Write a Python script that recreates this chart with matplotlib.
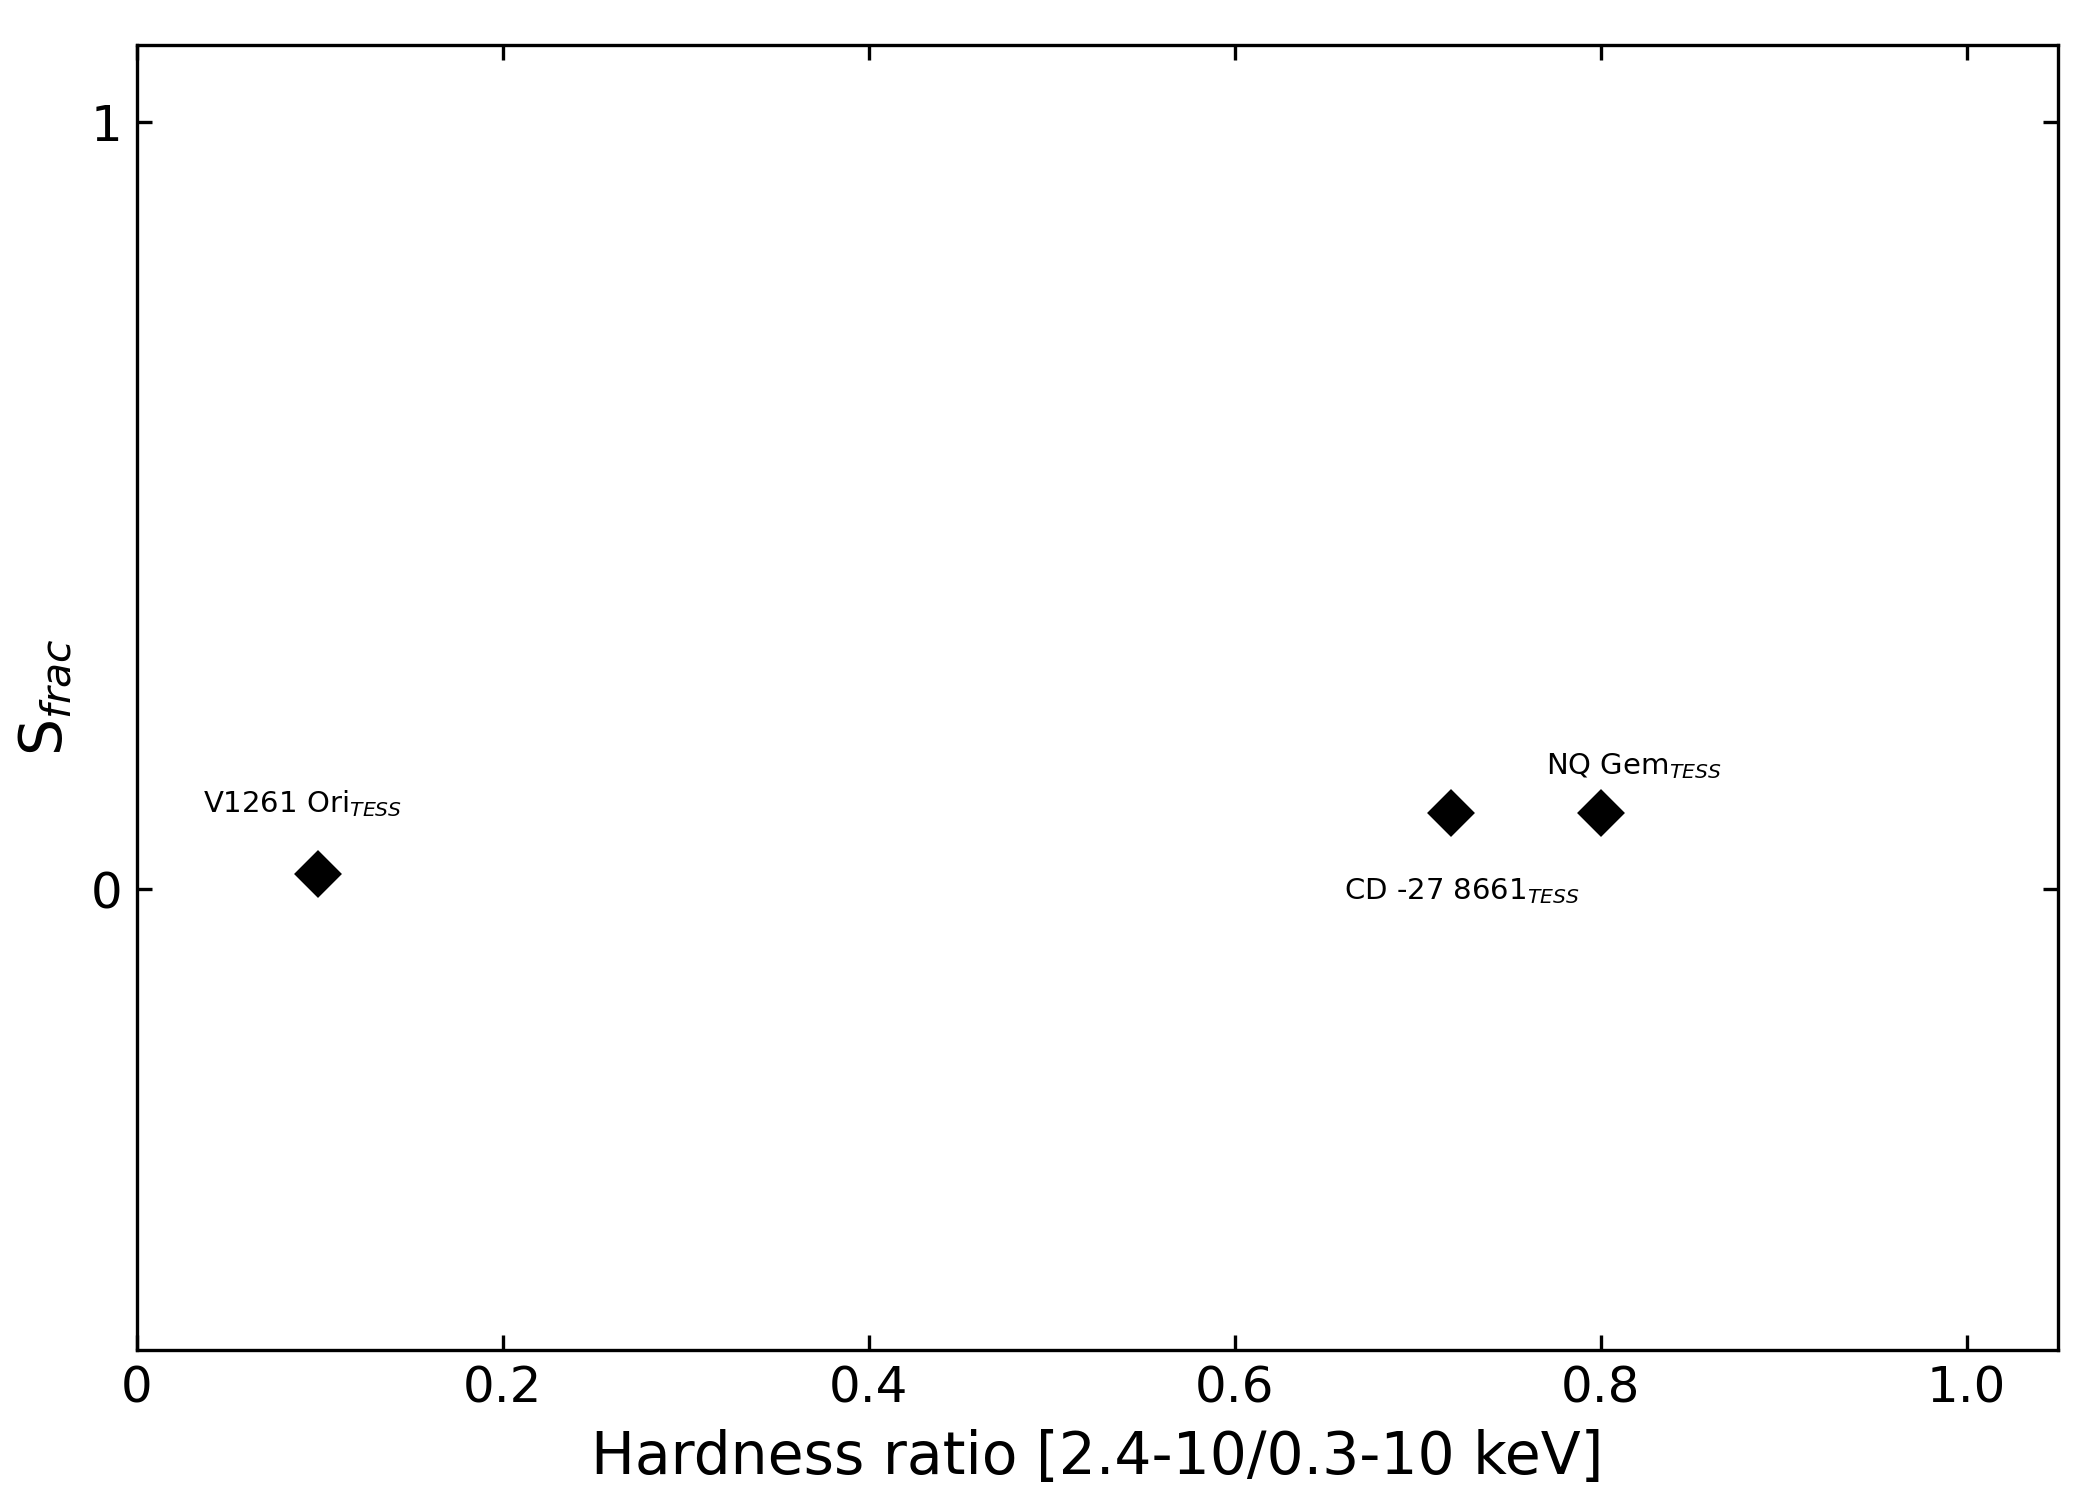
import matplotlib
matplotlib.use("Agg")
import matplotlib.pyplot as plt

names = [r"V1261 Ori$_{TESS}$", r"CD -27 8661$_{TESS}$", r"NQ Gem$_{TESS}$"]
hardness = [0.099, 0.718, 0.800]
sfrac = [0.02, 0.10, 0.10]
label_x = [0.036, 0.660, 0.770]
label_y = [0.112, -0.002, 0.161]

xticks = [0, 0.2, 0.4, 0.6, 0.8, 1.0]
xticklabels = ["0", "0.2", "0.4", "0.6", "0.8", "1.0"]
yticks = [0, 1]
yticklabels = ["0", "1"]

fig = plt.figure(figsize=(7, 5), dpi=300)
ax = fig.add_axes([137/2100, 1 - 1350/1500, (2058-137)/2100, (1350-45)/1500])
ax.plot(hardness, sfrac, linestyle="none", marker="D", color="black", markersize=7)
for n, lx, ly in zip(names, label_x, label_y):
    ax.text(lx, ly, n, fontsize=7, ha="left", va="center")

ax.set_xlim(0, 1.05)
ax.set_ylim(-0.6, 1.1)
ax.set_xticks(xticks)
ax.set_xticklabels(xticklabels)
ax.set_yticks(yticks)
ax.set_yticklabels(yticklabels)
ax.tick_params(direction="in", top=True, right=True, labelsize=12)
ax.set_xlabel("Hardness ratio [2.4-10/0.3-10 keV]", fontsize=14)
ax.set_ylabel(r"S$_{frac}$", fontsize=14)
fig.savefig("out.png", dpi=300)
